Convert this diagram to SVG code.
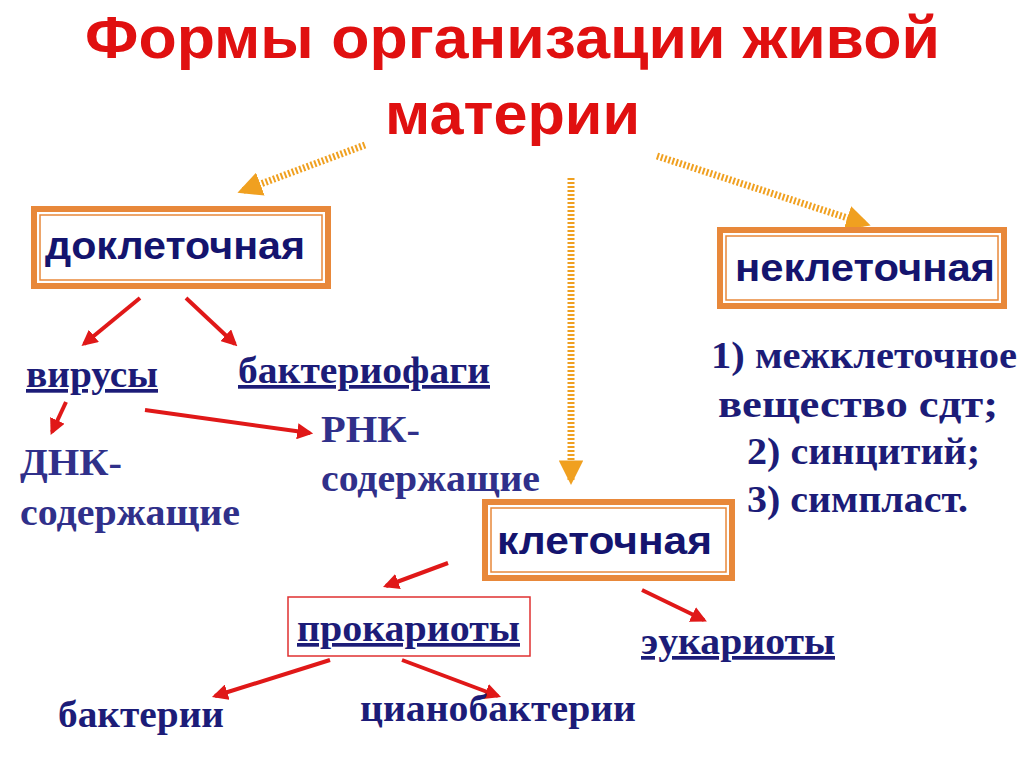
<svg xmlns="http://www.w3.org/2000/svg" width="1024" height="767" viewBox="0 0 1024 767">
<style>
.t{font-family:"Liberation Sans",Arial,sans-serif;font-weight:bold;fill:#e01010;font-size:60px}
.b{font-family:"Liberation Sans",Arial,sans-serif;font-weight:bold;fill:#14146e;font-size:39px}
.s{font-family:"Liberation Serif","Times New Roman",serif;font-weight:bold;fill:#1c1c78;font-size:37px}
.g{font-family:"Liberation Serif","Times New Roman",serif;font-weight:bold;fill:#30308a;font-size:38px}
.ob{fill:#fff;stroke:#e8883a;stroke-width:6}
.ib{fill:none;stroke:#e8883a;stroke-width:1.5}
.ra{stroke:#e01818;stroke-width:4;fill:none;marker-end:url(#ra)}
.da{stroke:#f0a020;stroke-width:7;stroke-dasharray:2 2;fill:none;marker-end:url(#da)}
</style>
<defs>
<marker id="ra" viewBox="0 0 10 10" refX="8" refY="5" markerWidth="4" markerHeight="4" orient="auto"><path d="M0,0 L10,5 L0,10 z" fill="#e01818"/></marker>
<marker id="da" viewBox="0 0 10 10" refX="8" refY="5" markerWidth="3.5" markerHeight="3.5" orient="auto"><path d="M0,0 L10,5 L0,10 z" fill="#f0a020"/></marker>
</defs>
<rect width="1024" height="767" fill="#fff"/>
<g id="title"><text class="t" x="85" y="58" textLength="855" lengthAdjust="spacingAndGlyphs">Формы организации живой</text><text class="t" x="385" y="134" textLength="255" lengthAdjust="spacingAndGlyphs">материи</text></g>
<g id="connectors">
<line class="da" x1="365" y1="145" x2="242" y2="191"/>
<line class="da" x1="571" y1="178" x2="571" y2="480"/>
<line class="da" x1="657" y1="156" x2="866" y2="224"/>
<line class="ra" x1="140" y1="298" x2="84" y2="344"/>
<line class="ra" x1="186" y1="298" x2="235" y2="344"/>
<line class="ra" x1="66" y1="402" x2="52" y2="432"/>
<line class="ra" x1="145" y1="410" x2="310" y2="433"/>
<line class="ra" x1="448" y1="563" x2="386" y2="586"/>
<line class="ra" x1="642" y1="590" x2="704" y2="620"/>
<line class="ra" x1="330" y1="660" x2="215" y2="696"/>
<line class="ra" x1="402" y1="660" x2="498" y2="696"/>
</g>
<g id="n-dokl"><rect class="ob" x="34" y="209" width="294" height="77"/><rect class="ib" x="40" y="215" width="282" height="65"/><text class="b" x="45" y="259" textLength="260" lengthAdjust="spacingAndGlyphs">доклеточная</text></g>
<g id="n-nekl"><rect class="ob" x="720" y="230" width="284" height="76"/><rect class="ib" x="726" y="236" width="272" height="64"/><text class="b" x="735" y="281" textLength="260" lengthAdjust="spacingAndGlyphs">неклеточная</text></g>
<g id="n-kl"><rect class="ob" x="485" y="502" width="247" height="76"/><rect class="ib" x="491" y="508" width="235" height="64"/><text class="b" x="497" y="554" textLength="215" lengthAdjust="spacingAndGlyphs">клеточная</text></g>
<g id="n-prok"><rect x="288" y="597" width="242" height="59" fill="#fff" stroke="#e03030" stroke-width="1.5"/><text class="s" x="297" y="641" textLength="223" lengthAdjust="spacingAndGlyphs" text-decoration="underline">прокариоты</text></g>
<g id="n-vir"><text class="s" x="26" y="387" textLength="132" lengthAdjust="spacingAndGlyphs" text-decoration="underline">вирусы</text></g>
<g id="n-bakt"><text class="s" x="238" y="383" textLength="252" lengthAdjust="spacingAndGlyphs" text-decoration="underline">бактериофаги</text></g>
<g id="n-dnk"><text class="g" x="20" y="475" textLength="102" lengthAdjust="spacingAndGlyphs">ДНК-</text><text class="g" x="20" y="525" textLength="220" lengthAdjust="spacingAndGlyphs">содержащие</text></g>
<g id="n-rnk"><text class="g" x="321" y="442" textLength="99" lengthAdjust="spacingAndGlyphs">РНК-</text><text class="g" x="321" y="491" textLength="219" lengthAdjust="spacingAndGlyphs">содержащие</text></g>
<g id="n-list"><text class="s" x="711" y="368" textLength="306" lengthAdjust="spacingAndGlyphs">1)  межклеточное</text><text class="s" x="718" y="417" textLength="280" lengthAdjust="spacingAndGlyphs">вещество сдт;</text><text class="s" x="747" y="464" textLength="233" lengthAdjust="spacingAndGlyphs">2) синцитий;</text><text class="s" x="747" y="512" textLength="221" lengthAdjust="spacingAndGlyphs">3) симпласт.</text></g>
<g id="n-euk"><text class="s" x="641" y="654" textLength="194" lengthAdjust="spacingAndGlyphs" text-decoration="underline">эукариоты</text></g>
<g id="n-bac"><text class="s" x="58" y="727" textLength="166" lengthAdjust="spacingAndGlyphs">бактерии</text></g>
<g id="n-cyan"><text class="s" x="360" y="721" textLength="276" lengthAdjust="spacingAndGlyphs">цианобактерии</text></g>
</svg>
